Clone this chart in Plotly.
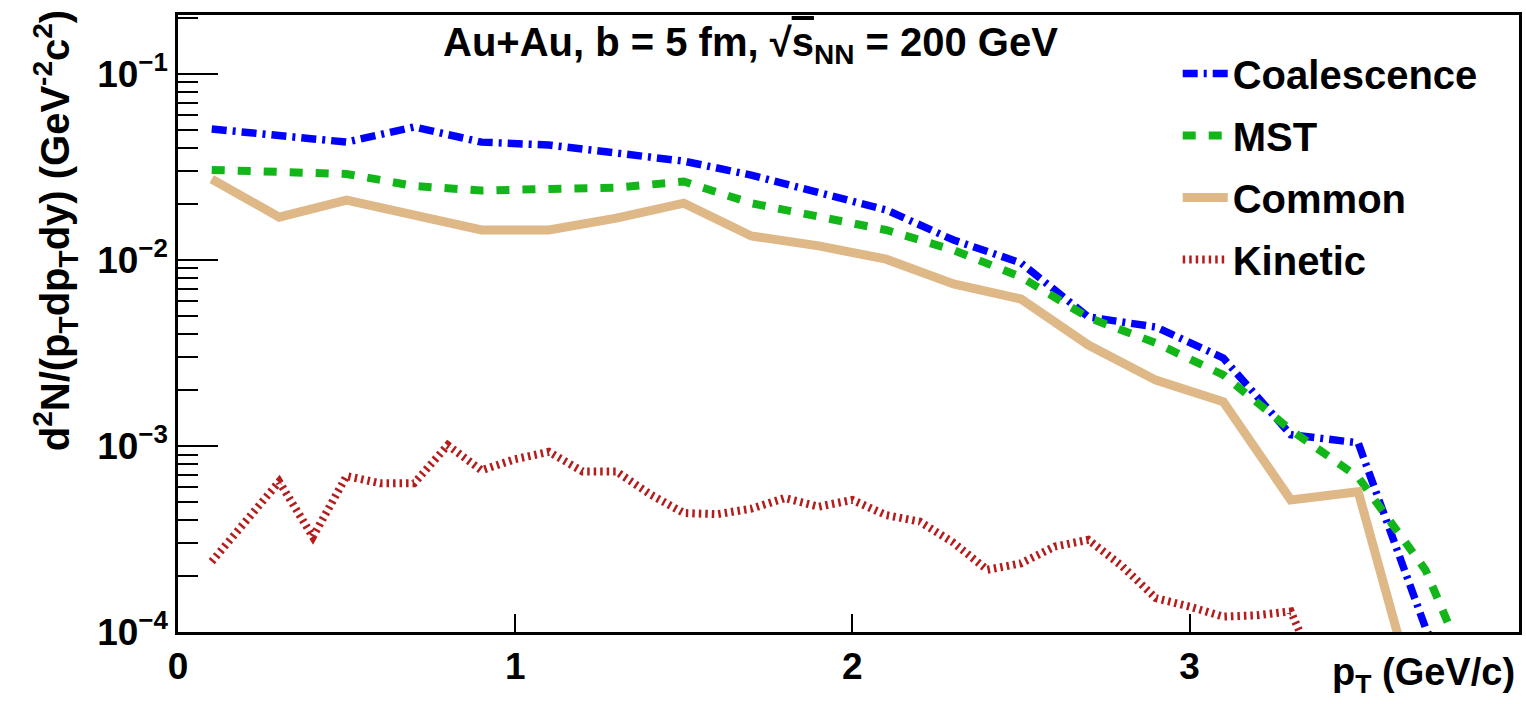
import plotly.graph_objects as go

# ---- data ----
pt = [0.1, 0.3, 0.5, 0.7, 0.9, 1.1, 1.3, 1.5, 1.7, 1.9, 2.1, 2.3, 2.5, 2.7, 2.9,
      3.1, 3.3, 3.5, 3.7, 3.9]
coalescence = [0.0506, 0.0464, 0.0430, 0.0519, 0.0430, 0.0415, 0.0376, 0.0340,
               0.0286, 0.0232, 0.0186, 0.0128, 0.00964, 0.00494, 0.00436,
               0.00297, 0.00115, 0.00104, 1.05e-4, 2.0e-5]
mst = [0.0305, 0.0295, 0.0290, 0.0250, 0.0236, 0.0241, 0.0245, 0.0264, 0.0202,
       0.0171, 0.0145, 0.0113, 0.0081, 0.0049, 0.00358, 0.00241, 0.00122,
       0.00068, 0.000215, 3.0e-5]
common = [0.0272, 0.0170, 0.0210, 0.0174, 0.0145, 0.0145, 0.0168, 0.0202,
          0.01346, 0.0119, 0.0101, 0.00743, 0.00617, 0.00349, 0.00226, 0.00173,
          0.000513, 0.000568, 2.8e-5, 1.0e-5]

pt_kin = [0.1, 0.2, 0.3, 0.4, 0.5, 0.6, 0.7, 0.8, 0.9, 1.0, 1.1, 1.2, 1.3, 1.4,
          1.5, 1.6, 1.7, 1.8, 1.9, 2.0, 2.1, 2.2, 2.3, 2.4, 2.5, 2.6, 2.7, 2.8,
          2.9, 3.0, 3.1, 3.2, 3.3, 3.4]
kinetic = [2.39e-4, 3.92e-4, 6.43e-4, 3.25e-4, 6.9e-4, 6.3e-4, 6.3e-4, 1.01e-3,
           7.4e-4, 8.5e-4, 9.3e-4, 7.3e-4, 7.3e-4, 5.5e-4, 4.36e-4, 4.3e-4,
           4.6e-4, 5.25e-4, 4.72e-4, 5.13e-4, 4.25e-4, 3.92e-4, 3.02e-4,
           2.16e-4, 2.34e-4, 2.88e-4, 3.13e-4, 2.26e-4, 1.52e-4, 1.37e-4,
           1.21e-4, 1.23e-4, 1.29e-4, 5.0e-5]

x_ticks = [0, 1, 2, 3]
x_ticklabels = ["0", "1", "2", "3"]
y_ticks = [1e-4, 1e-3, 1e-2, 1e-1]
y_ticklabels = ["10<sup>\u22124</sup>", "10<sup>\u22123</sup>",
                "10<sup>\u22122</sup>", "10<sup>\u22121</sup>"]
y_minor = [m * d for d in (1e-4, 1e-3, 1e-2, 1e-1) for m in range(2, 10)]

FONT = "Liberation Sans, Arial, Helvetica, sans-serif"

fig = go.Figure()
fig.add_trace(go.Scatter(x=pt, y=coalescence, mode="lines", name="Coalescence",
                         legendgroup="a",
                         line=dict(color="#0000ff", width=7.5, dash="15px,6px,3px,6px")))
fig.add_trace(go.Scatter(x=pt, y=mst, mode="lines", name="MST", legendgroup="b",
                         line=dict(color="#13b619", width=8, dash="13px,13px")))
fig.add_trace(go.Scatter(x=pt, y=common, mode="lines", name="Common", legendgroup="c",
                         line=dict(color="#deb887", width=9)))
fig.add_trace(go.Scatter(x=pt_kin, y=kinetic, mode="lines", name="Kinetic",
                         legendgroup="d",
                         line=dict(color="#b51c1c", width=8, dash="2.5px,4px")))

fig.update_layout(
    width=1526, height=704,
    margin=dict(l=178, r=4, t=15, b=72),
    paper_bgcolor="white", plot_bgcolor="white",
    font=dict(family=FONT, size=37, color="black", weight="bold"),
    showlegend=True,
    legend=dict(x=0.7455, y=0.958, xanchor="left", yanchor="top",
                bgcolor="rgba(0,0,0,0)", borderwidth=0,
                font=dict(family=FONT, size=40, color="black", weight="bold"),
                tracegroupgap=7, itemwidth=45),
)
fig.update_xaxes(
    range=[0, 3.977], showgrid=False, zeroline=False,
    showline=True, linecolor="black", linewidth=2.5, mirror=True,
    tickmode="array", tickvals=x_ticks, ticktext=x_ticklabels,
    ticks="inside", ticklen=18, tickwidth=2, tickcolor="black",
    tickfont=dict(family=FONT, size=37, color="black", weight="bold"),
)
fig.update_yaxes(
    type="log", range=[-4, -0.683], showgrid=False, zeroline=False,
    showline=True, linecolor="black", linewidth=2.5, mirror=True,
    tickmode="array", tickvals=y_ticks, ticktext=y_ticklabels,
    ticks="inside", ticklen=40, tickwidth=2, tickcolor="black",
    tickfont=dict(family=FONT, size=37, color="black", weight="bold"),
    minor=dict(tickmode="array", tickvals=y_minor, ticks="inside", ticklen=20,
               tickwidth=2, tickcolor="black", showgrid=False),
)

fig.add_annotation(
    text="Au+Au, b = 5 fm, \u221a<span style=\"text-decoration:overline\">s</span><sub>NN</sub> = 200 GeV",
    xref="paper", yref="paper", x=0.427, y=0.951, xanchor="center", yanchor="middle",
    showarrow=False, font=dict(family=FONT, size=40, color="black", weight="bold"))
fig.add_annotation(
    text="p<sub>T</sub> (GeV/c)",
    xref="paper", yref="paper", x=0.9985, y=-0.07, xanchor="right", yanchor="middle",
    showarrow=False, font=dict(family=FONT, size=38, color="black", weight="bold"))
fig.add_annotation(
    text="d<sup>2</sup>N/(p<sub>T</sub>dp<sub>T</sub>dy) (GeV<sup>-2</sup>c<sup>2</sup>)",
    xref="paper", yref="paper", x=-0.0915, y=0.65, xanchor="center", yanchor="middle",
    textangle=-90, showarrow=False,
    font=dict(family=FONT, size=40, color="black", weight="bold"))

fig.write_html("out.html")
